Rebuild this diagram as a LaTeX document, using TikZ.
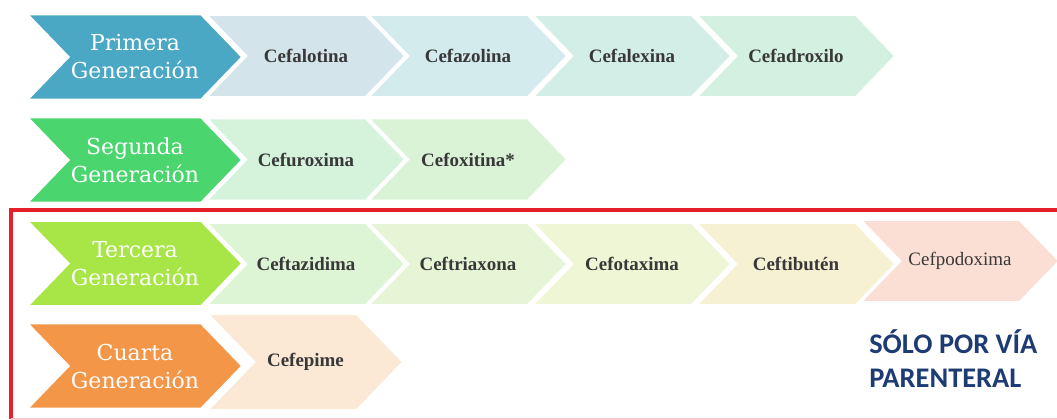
\documentclass[tikz,border=0pt]{standalone}
\usepackage{fontspec}
\setmainfont{Liberation Serif}
\newfontfamily\genfont{DejaVu Serif}
\newfontfamily\notefont{Carlito}
\usepackage{xcolor}
\usepackage{tikz}
\usetikzlibrary{shapes.symbols,positioning}
\definecolor{primeracol}{HTML}{4AA8C4}
\definecolor{segundacol}{HTML}{4AD56E}
\definecolor{terceracol}{HTML}{A8E648}
\definecolor{cuartacol}{HTML}{F39648}
\definecolor{framered}{HTML}{E5202C}
\definecolor{noteblue}{HTML}{1D3C74}

\begin{document}
\begin{tikzpicture}[x=0.75pt, y=-0.75pt,
    chev/.style={signal, signal from=west, signal to=east, signal pointer angle=92,
        inner sep=0pt, draw=white, line width=1.2pt},
    genchev/.style={chev, minimum width=160.5pt, minimum height=63.5pt, text=white,
        font=\genfont\fontsize{16.5}{21}\selectfont, align=center},
    drugchev/.style={chev, minimum width=148.5pt, minimum height=61.5pt, text=black!78,
        font=\bfseries\fontsize{14.2}{17}\selectfont}]
    \useasboundingbox (0,0) rectangle (1057,420);

    % Parenteral frame
    \draw[framered, line width=2.8pt] (1062,210) -- (11,210) -- (11,419);
    \draw[framered!25, line width=0.8pt] (11,419) -- (1062,419);

    % First generation
    \node[drugchev, fill={rgb,255:red,211;green,240;blue,224}] (cefadroxilo) at (796,56) {Cefadroxilo};
    \node[drugchev, fill={rgb,255:red,211;green,238;blue,231}] (cefalexina) at (632,56) {Cefalexina};
    \node[drugchev, fill={rgb,255:red,211;green,235;blue,236}] (cefazolina) at (468,56) {Cefazolina};
    \node[drugchev, fill={rgb,255:red,212;green,228;blue,235}] (cefalotina) at (306,56) {Cefalotina};
    \node[genchev, fill=primeracol] (primera) at (135,57) {Primera\\Generación};

    % Second generation
    \node[drugchev, fill={rgb,255:red,218;green,243;blue,214}] (cefoxitina) at (468,159.5) {Cefoxitina*};
    \node[drugchev, fill={rgb,255:red,213;green,242;blue,219}] (cefuroxima) at (306,159.5) {Cefuroxima};
    \node[genchev, fill=segundacol] (segunda) at (135,160) {Segunda\\Generación};

    % Third generation
    \node[drugchev, fill={rgb,255:red,251;green,222;blue,212}, font=\fontsize{14.2}{17}\selectfont] (cefpodoxima) at (960,261) {Cefpodoxima};
    \node[drugchev, fill={rgb,255:red,246;green,241;blue,211}] (ceftibuten) at (796,264) {Ceftibutén};
    \node[drugchev, fill={rgb,255:red,238;green,246;blue,214}] (cefotaxima) at (632,264) {Cefotaxima};
    \node[drugchev, fill={rgb,255:red,230;green,245;blue,213}] (ceftriaxona) at (468,264) {Ceftriaxona};
    \node[drugchev, fill={rgb,255:red,221;green,245;blue,213}] (ceftazidima) at (306,264) {Ceftazidima};
    \node[genchev, fill=terceracol] (tercera) at (135,263.5) {Tercera\\Generación};

    % Fourth generation
    \node[drugchev, fill={rgb,255:red,251;green,233;blue,214}, minimum width=146pt, minimum height=72pt] (cefepime) at (305.5,362) {Cefepime};
    \node[genchev, fill=cuartacol] (cuarta) at (135,366) {Cuarta\\Generación};

    % Note
    \node[font=\notefont\bfseries\fontsize{21.3}{26}\selectfont, text=noteblue, align=left,
        anchor=north west, inner sep=0pt] (parenteral) at (869,329) {SÓLO POR VÍA\\PARENTERAL};
\end{tikzpicture}
\end{document}
